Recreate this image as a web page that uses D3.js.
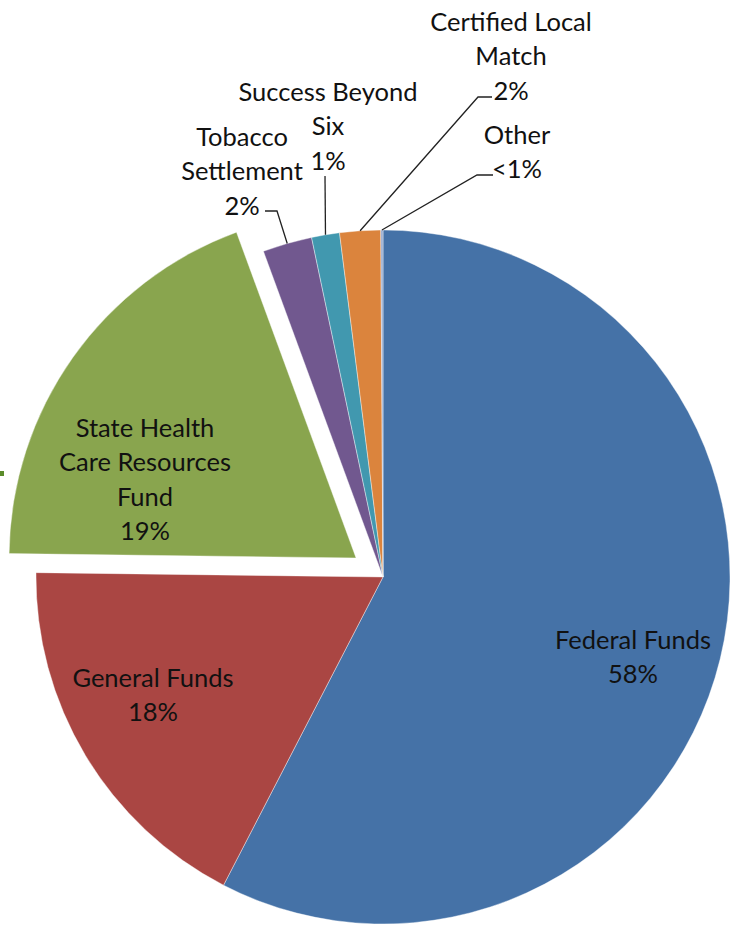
<!DOCTYPE html>
<html>
<head>
<meta charset="utf-8">
<script src="https://cdn.jsdelivr.net/npm/d3@7"></script>
<style>
  html, body { margin: 0; padding: 0; background: #fff; }
  svg { display: block; }
</style>
</head>
<body>
<svg id="chart" width="730" height="931"></svg>
<script>
// funding sources, clockwise from 12 o'clock
var categories = ['Federal Funds', 'General Funds', 'State Health Care Resources Fund',
  'Tobacco Settlement', 'Success Beyond Six', 'Certified Local Match', 'Other'];
var values = [57.6, 17.6, 19.2, 2.3, 1.3, 1.9, 0.1];
var pctLabels = ['58%', '18%', '19%', '2%', '1%', '2%', '<1%'];
var nameLines = [['Federal Funds'], ['General Funds'], ['State Health', 'Care Resources', 'Fund'],
  ['Tobacco', 'Settlement'], ['Success Beyond', 'Six'], ['Certified Local', 'Match'], ['Other']];
var colors = ['#4572A7', '#AA4643', '#89A54E', '#71588F', '#4198AF', '#DB843D', '#93A9CF'];
var exploded = 'State Health Care Resources Fund';

var cx = 383, cy = 577, radius = 347, explodeBy = 33, lineHeight = 34.5;

// label placement (centre x, centre y of first line) and leader elbows
var labelPos = {
  'Federal Funds': [633, 640],
  'General Funds': [153, 678],
  'State Health Care Resources Fund': [145, 428],
  'Tobacco Settlement': [242, 137],
  'Success Beyond Six': [328, 92],
  'Certified Local Match': [511, 22],
  'Other': [517, 135]
};
var leaders = {
  'Tobacco Settlement': [[265, 211], [277, 211]],
  'Success Beyond Six': [[325, 176]],
  'Certified Local Match': [[492, 97], [478, 97]],
  'Other': [[493, 175], [477, 175]]
};

var data = categories.map(function (c, i) {
  return { name: c, value: values[i], pct: pctLabels[i], lines: nameLines[i], color: colors[i] };
});

var svg = d3.select('#chart');
svg.append('rect').attr('width', 730).attr('height', 931).attr('fill', '#fff');
svg.append('rect').attr('x', 0).attr('y', 471).attr('width', 4).attr('height', 5).attr('fill', '#5B8C2A');

var pie = d3.pie().sort(null).value(function (d) { return d.value; });
var arc = d3.arc().innerRadius(0).outerRadius(radius);
var edge = d3.arc().innerRadius(radius).outerRadius(radius);
var arcs = pie(data);

var g = svg.append('g').attr('transform', 'translate(' + cx + ',' + cy + ')');

g.selectAll('path').data(arcs).enter().append('path')
  .attr('d', arc)
  .attr('fill', function (d) { return d.data.color; })
  .attr('stroke', '#fff')
  .attr('stroke-width', 0.4)
  .attr('transform', function (d) {
    if (d.data.name !== exploded) return null;
    var a = (d.startAngle + d.endAngle) / 2;
    return 'translate(' + (Math.sin(a) * explodeBy) + ',' + (-Math.cos(a) * explodeBy) + ')';
  });

// leader lines
arcs.forEach(function (d) {
  var pts = leaders[d.data.name];
  if (!pts) return;
  var end = edge.centroid(d);
  var path = pts.concat([[end[0] + cx, end[1] + cy]]);
  svg.append('path')
    .attr('d', d3.line()(path))
    .attr('fill', 'none')
    .attr('stroke', '#222')
    .attr('stroke-width', 1.3);
});

// labels
arcs.forEach(function (d) {
  var p = labelPos[d.data.name];
  var lines = d.data.lines.concat([d.data.pct]);
  var t = svg.append('text')
    .attr('font-family', 'Lato, "Open Sans", sans-serif')
    .attr('font-size', 25.5)
    .attr('fill', '#111')
    .attr('text-anchor', 'middle');
  lines.forEach(function (l, i) {
    t.append('tspan').attr('x', p[0]).attr('y', p[1] + i * lineHeight).attr('dy', '0.35em').text(l);
  });
});
</script>
</body>
</html>
